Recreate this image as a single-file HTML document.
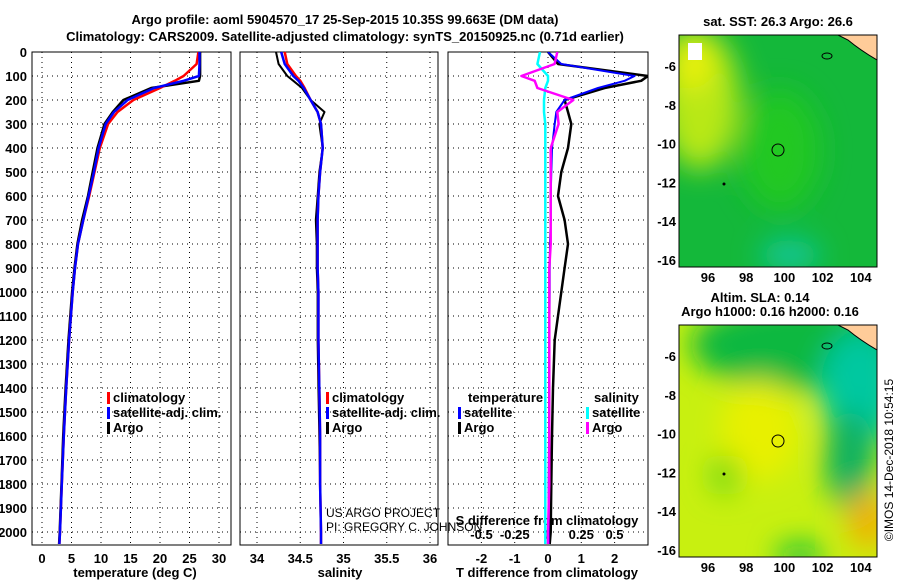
<!DOCTYPE html>
<html><head><meta charset="utf-8"><style>
body{margin:0;background:#fff;}
svg{display:block;font-family:"Liberation Sans",sans-serif;}
.b{font-weight:bold;font-size:13px;}
</style></head><body>
<svg id="c" width="900" height="580" viewBox="0 0 900 580">
<defs>
<filter id="bl" x="-50%" y="-50%" width="200%" height="200%"><feGaussianBlur stdDeviation="14"/></filter>
<clipPath id="m1"><rect x="679" y="35" width="198" height="232"/></clipPath>
<clipPath id="m2"><rect x="679" y="325" width="198" height="232"/></clipPath>
<clipPath id="p3"><rect x="448" y="52" width="200" height="493"/></clipPath>
</defs>
<text class="b" x="345" y="24" text-anchor="middle">Argo profile: aoml 5904570_17 25-Sep-2015 10.35S 99.663E (DM data)</text>
<text class="b" x="345" y="41" text-anchor="middle">Climatology: CARS2009. Satellite-adjusted climatology: synTS_20150925.nc (0.71d earlier)</text>
<g id="g"></g>
<g clip-path="url(#m1)">
<rect x="679" y="35" width="198" height="232" fill="#14b83a"/>
<g filter="url(#bl)">
<ellipse cx="700" cy="100" rx="40" ry="70" fill="#b8e818"/>
<ellipse cx="690" cy="60" rx="25" ry="30" fill="#e8f010"/>
<ellipse cx="790" cy="255" rx="30" ry="15" fill="#10c8a0"/>
<ellipse cx="780" cy="150" rx="40" ry="60" fill="#20c820"/>
</g>
<rect x="688" y="43" width="14" height="17" fill="#fff"/>
<path d="M838 35 L877 35 L877 60 Q860 50 848 40 Z" fill="#ffcc99" stroke="#000"/>
<ellipse cx="827" cy="56" rx="5" ry="3" fill="none" stroke="#000"/>
<circle cx="778" cy="150" r="6" fill="none" stroke="#000"/>
<circle cx="724" cy="184" r="1.5" fill="#000"/>
</g>
<rect x="679" y="35" width="198" height="232" fill="none" stroke="#000"/>
<text class="b" x="778" y="26" text-anchor="middle">sat. SST: 26.3 Argo: 26.6</text>
<g clip-path="url(#m2)">
<rect x="679" y="325" width="198" height="232" fill="#c8f010"/>
<g filter="url(#bl)">
<ellipse cx="800" cy="345" rx="110" ry="45" fill="#10b840"/>
<ellipse cx="860" cy="390" rx="40" ry="60" fill="#00c8a0"/>
<ellipse cx="850" cy="460" rx="25" ry="50" fill="#10b060"/>
<ellipse cx="760" cy="430" rx="40" ry="50" fill="#e8f000"/>
<ellipse cx="868" cy="520" rx="20" ry="30" fill="#f0b000"/>
<ellipse cx="800" cy="555" rx="25" ry="12" fill="#10c040"/>
<ellipse cx="725" cy="475" rx="15" ry="20" fill="#70d818"/>
</g>
<path d="M838 325 L877 325 L877 350 Q860 340 848 330 Z" fill="#ffcc99" stroke="#000"/>
<ellipse cx="827" cy="346" rx="5" ry="3" fill="none" stroke="#000"/>
<circle cx="778" cy="441" r="6" fill="none" stroke="#000"/>
<circle cx="724" cy="474" r="1.5" fill="#000"/>
</g>
<rect x="679" y="325" width="198" height="232" fill="none" stroke="#000"/>
<text class="b" x="760" y="302" text-anchor="middle">Altim. SLA: 0.14</text>
<text class="b" x="770" y="316" text-anchor="middle">Argo h1000: 0.16 h2000: 0.16</text>
<text x="893" y="460" font-size="12" text-anchor="middle" transform="rotate(-90 893 460)">©IMOS 14-Dec-2018 10:54:15</text>
<text x="326" y="517" font-size="12">US ARGO PROJECT</text>
<text x="326" y="531" font-size="12">PI: GREGORY C. JOHNSON</text>
</svg>
<script>
const depths=[0,50,100,120,150,200,250,300,400,500,600,700,800,900,1000,1200,1400,1600,1800,2000,2050];
const tempArgo=[26.8,26.8,26.8,26.6,18.5,13.8,12.0,10.6,9.4,8.6,7.8,6.8,6.0,5.5,5.1,4.5,4.0,3.6,3.3,3.0,2.9];
const tempSat=[26.7,26.7,26.6,24,19,14.5,12.2,10.8,9.6,8.8,7.9,7.0,6.1,5.6,5.2,4.6,4.1,3.7,3.35,3.05,2.95];
const tempClim=[26.5,26.2,24,22.5,20,15.5,12.8,11.2,9.8,8.9,8.0,7.0,6.1,5.6,5.2,4.6,4.1,3.7,3.35,3.05,2.95];
const salArgo=[34.22,34.25,34.35,34.42,34.52,34.62,34.78,34.72,34.76,34.72,34.70,34.68,34.69,34.69,34.70,34.70,34.71,34.72,34.73,34.74,34.74];
const salSat=[34.28,34.32,34.42,34.48,34.54,34.62,34.7,34.74,34.76,34.73,34.71,34.70,34.70,34.70,34.71,34.71,34.72,34.73,34.73,34.74,34.74];
const salClim=[34.32,34.35,34.45,34.5,34.55,34.62,34.7,34.74,34.76,34.73,34.71,34.70,34.70,34.70,34.71,34.71,34.72,34.73,34.73,34.74,34.74];
const dTsat=[0,0.4,2.6,2.3,1.5,0.5,0.25,0.2,0.12,0.1,0.08,0.08,0.06,0.05,0.05,0.04,0.03,0.03,0.02,0.02,0.02];
const dTargo=[0,0.3,3.0,2.8,1.7,0.5,0.6,0.7,0.6,0.4,0.3,0.5,0.6,0.5,0.4,0.2,0.15,0.12,0.1,0.08,0.05];
const dSsat=[-0.06,-0.08,0,0,-0.02,-0.03,-0.03,-0.02,-0.02,-0.02,-0.02,-0.02,-0.02,-0.02,-0.02,-0.02,-0.02,-0.02,-0.02,-0.02,-0.02];
const dSargo=[0.07,0.05,-0.2,-0.1,-0.08,0.19,0.07,0.08,0.02,0.02,0.02,0.02,0.02,0.01,0.01,0.01,0.01,0.01,0.01,0,0];
const depthTicks=[0,100,200,300,400,500,600,700,800,900,1000,1100,1200,1300,1400,1500,1600,1700,1800,1900,2000];
const tempTicks=[0,5,10,15,20,25,30];
const salTicks=[34,34.5,35,35.5,36];
const dTTicks=[-2,-1,0,1,2];
const dSTicks=[-0.5,-0.25,0,0.25,0.5];
const lonTicks=[96,98,100,102,104];
const latTicks=[-6,-8,-10,-12,-14,-16];

const NS='http://www.w3.org/2000/svg';
const G=document.getElementById('g');
function mk(tag,attrs,parent){const e=document.createElementNS(NS,tag);for(const k in attrs)e.setAttribute(k,attrs[k]);(parent||G).appendChild(e);return e;}
const yD=d=>52+d*0.24;
const xT=t=>42+t*5.9;
const xS=s=>257+(s-34)*86.5;
const xDT=v=>548+v*33.3;
const xDS=v=>548+v*133;
const xLon=l=>708+(l-96)*19.1;
const yLat=(l,o)=>66+o+(-6-l)*19.4;

function panel(x0,x1,name){
  const f=mk('rect',{x:x0,y:52,width:x1-x0,height:493,fill:'none',stroke:'#000'});
  
  
  depthTicks.forEach(d=>{if(d>0){const l=mk('line',{x1:x0,x2:x1,y1:yD(d),y2:yD(d),stroke:'#000','stroke-dasharray':'1 4'});
    
    }});
}
function vgrid(xs,fn,y0,y1){xs.forEach(v=>{const l=mk('line',{x1:fn(v),x2:fn(v),y1:y0,y2:y1,stroke:'#000','stroke-dasharray':'1 4'});
  
  });}
function text(x,y,s,anchor,name,cls){const t=mk('text',{x:x,y:y,'text-anchor':anchor||'middle','class':cls||'b'});t.textContent=s;
  
  return t;}
function line(vals,fx,color,name,w,clip){let d='';vals.forEach((v,i)=>{d+=(i?'L':'M')+fx(v).toFixed(1)+' '+yD(depths[i]).toFixed(1);});
  const p=mk('path',{d:d,fill:'none',stroke:color,'stroke-width':w||2.5,'stroke-linejoin':'round'});
  if(clip)p.setAttribute('clip-path',clip);
  
  }

panel(32,231,'temperature-panel');
panel(240,438,'salinity-panel');
panel(448,648,'difference-panel');
vgrid(tempTicks,xT,52,545);
vgrid(salTicks,xS,52,545);
vgrid(dTTicks,xDT,52,545);
depthTicks.forEach(d=>text(27,yD(d)+5,String(d),'end','depth-tick-label'));
tempTicks.forEach(t=>text(xT(t),563,String(t),'middle','temp-tick-label'));
salTicks.forEach(t=>text(xS(t),563,String(t),'middle','salinity-tick-label'));
dTTicks.forEach(t=>text(xDT(t),563,String(t),'middle','tdiff-tick-label'));
dSTicks.forEach(t=>text(xDS(t),539,String(t),'middle','sdiff-tick-label'));
text(135,577,'temperature (deg C)','middle','temp-axis-title');
text(340,577,'salinity','middle','salinity-axis-title');
text(547,577,'T difference from climatology','middle','tdiff-axis-title');
text(547,525,'S difference from climatology','middle','sdiff-axis-title');

line(tempArgo,xT,'#000','temp-argo-line');
line(tempClim,xT,'#f00','temp-clim-line');
line(tempSat,xT,'#00f','temp-sat-line');
line(salArgo,xS,'#000','sal-argo-line',2);
line(salClim,xS,'#f00','sal-clim-line');
line(salSat,xS,'#00f','sal-sat-line');
line(dTargo,xDT,'#000','tdiff-argo-line',2.5,'url(#p3)');
line(dTsat,xDT,'#00f','tdiff-sat-line',2,'url(#p3)');
line(dSsat,xDS,'#0ff','sdiff-sat-line',2.5,'url(#p3)');
line(dSargo,xDS,'#f0f','sdiff-argo-line',2.5,'url(#p3)');

function legend(x,y,color,label){const r=mk('rect',{x:x,y:y-10,width:3,height:12,fill:color});
  
  
  text(x+6,y,label,'start','legend-entry');}
legend(107,402,'#f00','climatology');legend(107,417,'#00f','satellite-adj. clim.');legend(107,432,'#000','Argo');
legend(326,402,'#f00','climatology');legend(326,417,'#00f','satellite-adj. clim.');legend(326,432,'#000','Argo');
text(468,402,'temperature','start','legend-header-temp');
text(594,402,'salinity','start','legend-header-sal');
legend(458,417,'#00f','satellite');legend(458,432,'#000','Argo');
legend(586,417,'#0ff','satellite');legend(586,432,'#f0f','Argo');

[0,290].forEach((o,k)=>{
  lonTicks.forEach(l=>{text(xLon(l),282+o,String(l),'middle','lon-tick-label');
    const t=mk('line',{x1:xLon(l),x2:xLon(l),y1:35+o,y2:39+o,stroke:'#000'});
    
    });
  latTicks.forEach(l=>{text(676,yLat(l,o)+5,String(l),'end','lat-tick-label');
    const t=mk('line',{x1:873,x2:877,y1:yLat(l,o),y2:yLat(l,o),stroke:'#000'});
    
    });
});
</script>
</body></html>
